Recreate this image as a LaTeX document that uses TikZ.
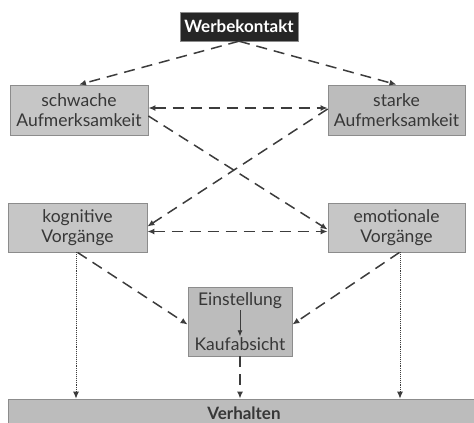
\documentclass[tikz,border=0pt]{standalone}
\usepackage{fontspec}
\setmainfont{Lato}
\usepackage{tikz}
\usetikzlibrary{arrows.meta,calc}
\definecolor{boxc}{RGB}{198,198,198}
\definecolor{boxdark}{RGB}{188,188,188}
\definecolor{edgec}{RGB}{140,140,140}
\definecolor{linec}{RGB}{60,60,60}
\definecolor{textc}{RGB}{55,55,55}
\tikzset{
  stage/.style    = {draw=edgec, thick, fill=boxc, align=center, inner sep=0pt,
                     text=textc, font=\fontsize{17.5}{20.5}\selectfont},
  source/.style   = {draw=edgec, fill=black!85, align=center, inner sep=0pt,
                     text=white, font=\fontsize{17}{20}\selectfont\bfseries},
  plain/.style    = {text=textc, inner sep=1pt, font=\fontsize{17.5}{20.5}\selectfont},
  dflow/.style    = {-{Latex[length=7pt,width=6pt]}, line width=1.5pt, draw=linec,
                     dash pattern=on 11pt off 7pt},
  bothflow/.style = {{Latex[length=7pt,width=6pt]}-{Latex[length=7pt,width=6pt]},
                     line width=1.5pt, draw=linec, dash pattern=on 11pt off 7pt},
  dotflow/.style  = {-{Latex[length=7pt,width=6pt]}, line width=0.9pt, draw=linec,
                     densely dotted},
}

\begin{document}
\begin{tikzpicture}[x=1pt, y=-1pt]
\useasboundingbox (0,0) rectangle (474,423);

% boxes, at pixel coordinates of the layout
\node[source, minimum width=118pt, minimum height=29pt] (werbe) at (239,26.5) {Werbekontakt};

\node[stage, minimum width=138pt, minimum height=50pt] (schwach) at (79,110)
  {schwache\\Aufmerksamkeit};
\node[stage, fill=boxdark, minimum width=137pt, minimum height=50pt] (stark) at (396.5,110)
  {starke\\Aufmerksamkeit};

\node[stage, minimum width=139pt, minimum height=49pt] (kogn) at (77.5,227.5)
  {kognitive\\Vorgänge};
\node[stage, minimum width=137pt, minimum height=49pt] (emot) at (396.5,227.5)
  {emotionale\\Vorgänge};

\node[stage, fill=boxdark, minimum width=104pt, minimum height=69pt] (einst) at (240,321.5) {};
\node[plain] (einT) at (240,301) {Einstellung};
\node[plain] (kaufT) at (240,344) {Kaufabsicht};

\node[stage, fill=boxdark, minimum width=472pt, minimum height=28pt,
      font=\fontsize{17}{20}\selectfont\bfseries] (verh) at (244,413) {Verhalten};

% connectors
\draw[dflow] (werbe.south) -- (schwach.north);
\draw[dflow] (werbe.south) -- (stark.north);
\draw[bothflow] ([yshift=2pt]schwach.east) -- ([yshift=2pt]stark.west);
\draw[dflow] ([yshift=-6pt]schwach.east) -- ([yshift=-2pt]emot.west);
\draw[dflow] ([yshift=1pt]stark.west) -- ([yshift=1pt]kogn.east);
\draw[bothflow] ([yshift=-4pt]kogn.east) -- ([yshift=-4pt]emot.west);
\draw[dflow] (kogn.south) -- ([yshift=-3pt]einst.west);
\draw[dflow] ([xshift=3pt]emot.south) -- ([yshift=-3pt]einst.east);
\draw[-{Latex[length=6pt,width=5pt]}, line width=0.8pt, draw=linec] (einT) -- (kaufT);
\draw[dflow] (einst.south) -- (einst.south |- verh.north);
\draw[dotflow] ([xshift=-1.5pt]kogn.south) -- ([xshift=-1.5pt]kogn.south |- verh.north);
\draw[dotflow] ([xshift=3.5pt]emot.south) -- ([xshift=3.5pt]emot.south |- verh.north);

\end{tikzpicture}
\end{document}
